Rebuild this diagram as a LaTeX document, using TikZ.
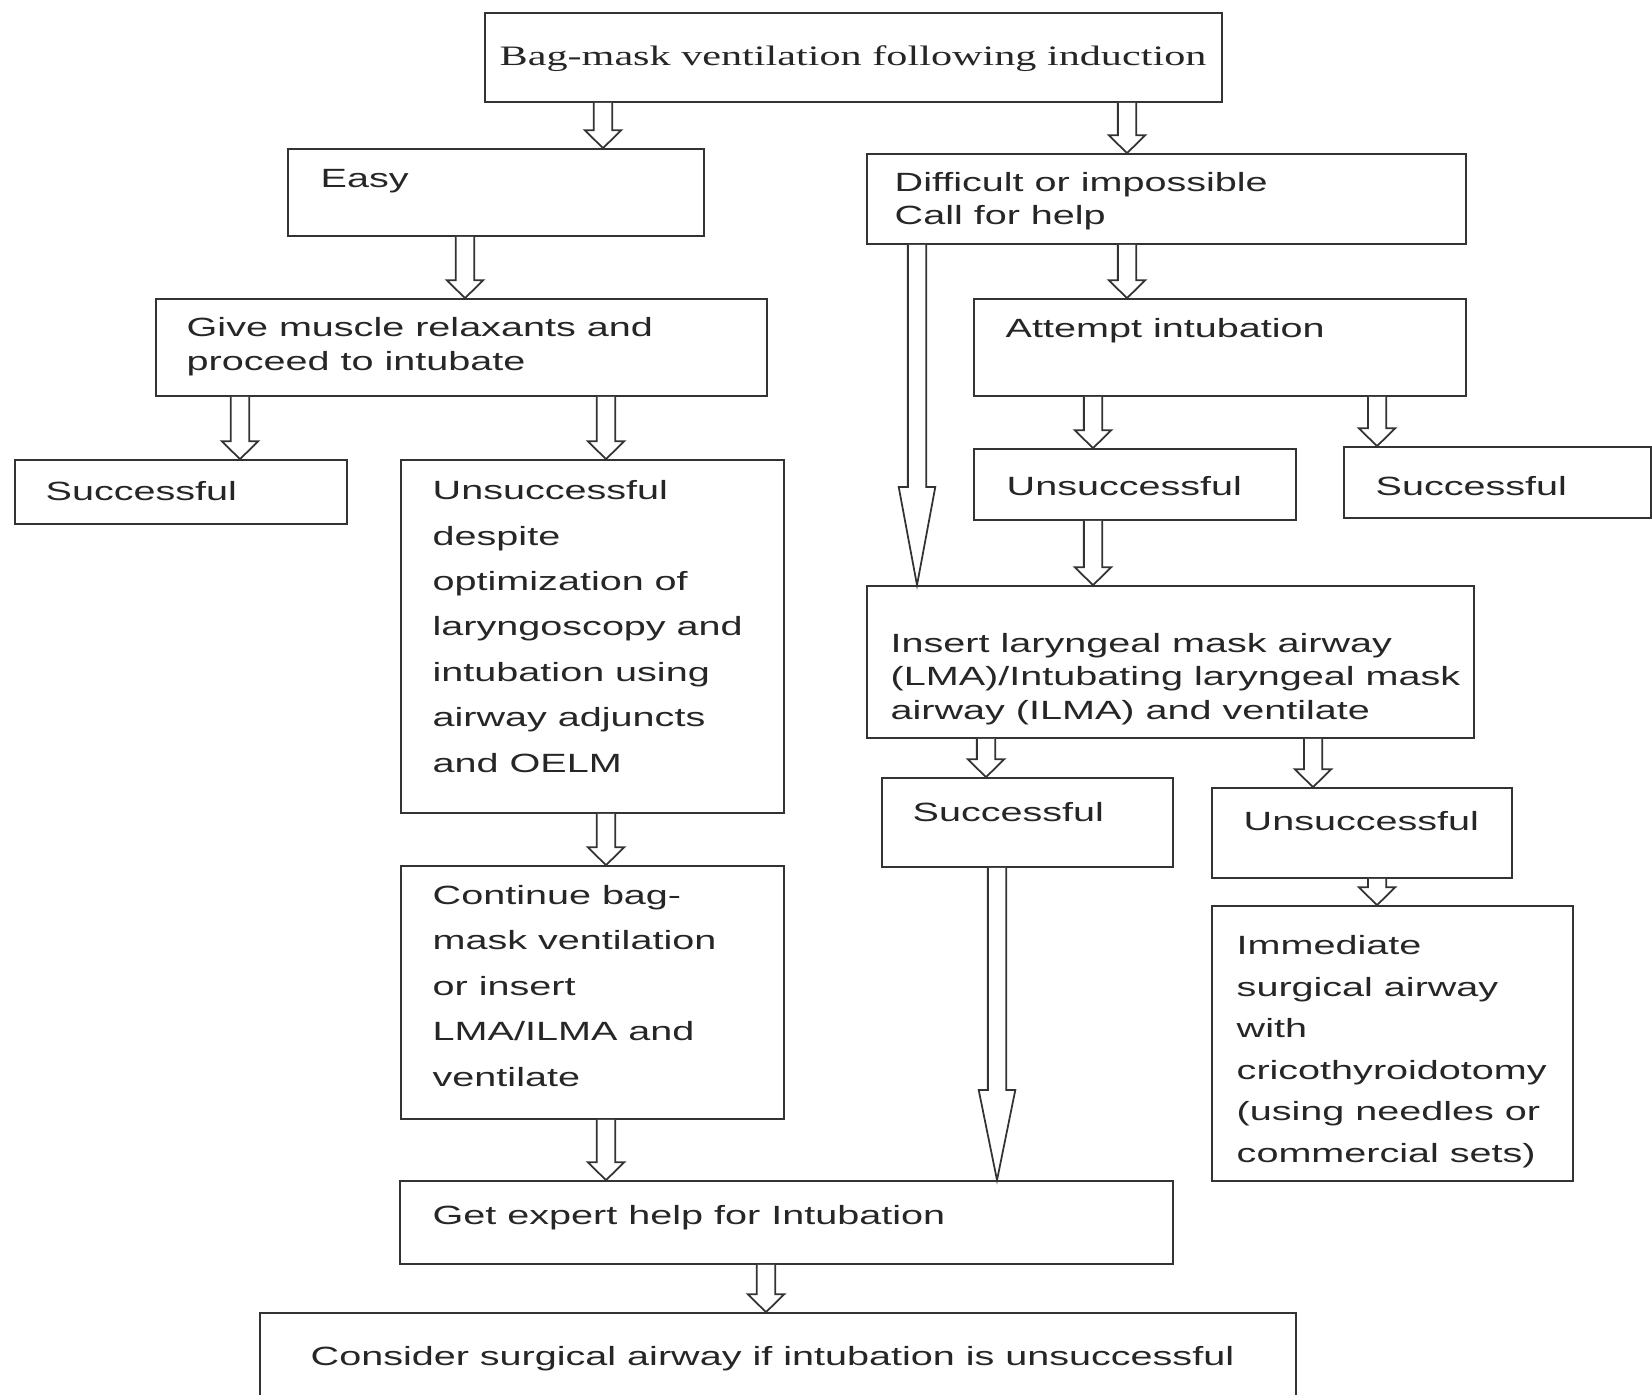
\documentclass[tikz,border=0pt]{standalone}
\usepackage{fontspec}
\setmainfont[FakeStretch=1.5]{Liberation Sans}
\newfontfamily\topfont[FakeStretch=1.5]{Liberation Serif}
\usetikzlibrary{fit,calc}

\tikzset{
  box/.style={draw=black!80, line width=0.5pt, inner sep=0pt},
  txt/.style={anchor=base west, inner sep=0pt, align=left, text=black!85,
    font=\fontsize{7.5pt}{9.5pt}\selectfont},
  widetxt/.style={txt, font=\fontsize{7.5pt}{12.9pt}\selectfont},
  midtxt/.style={txt, font=\fontsize{7.5pt}{11.8pt}\selectfont},
  hollow/.style={draw=black!80, line width=0.5pt, fill=white, line join=miter},
}

% hollow block arrow: [head length] from box, to box, x position
\newcommand{\flowarrow}[4][5.1pt]{%
  \draw[hollow] let \p1=(#2.south), \p2=(#3.north), \p3=(#4,0) in
    (\x3-2.6pt,\y1) -- (\x3-2.6pt,\y2+#1) -- (\x3-5.2pt,\y2+#1) -- (\x3,\y2)
    -- (\x3+5.2pt,\y2+#1) -- (\x3+2.6pt,\y2+#1) -- (\x3+2.6pt,\y1);
}

\begin{document}
\begin{tikzpicture}[x=0.01cm, y=-0.01cm]
  \useasboundingbox (0,0) rectangle (1652,1394);

  % Boxes
  \node[box, fit={(485,13) (1222,102)}] (start) {};
  \node[box, fit={(288,149) (704,236)}] (easy) {};
  \node[box, fit={(867,154) (1466,244)}] (difficult) {};
  \node[box, fit={(156,299) (767,396)}] (relax) {};
  \node[box, fit={(974,299) (1466,396)}] (attempt) {};
  \node[box, fit={(15,460) (347,524)}] (succleft) {};
  \node[box, fit={(401,460) (784,813)}] (despite) {};
  \node[box, fit={(974,449) (1296,520)}] (unsright) {};
  \node[box, fit={(1344,447) (1651,518)}] (succright) {};
  \node[box, fit={(867,586) (1474,738)}] (lma) {};
  \node[box, fit={(882,778) (1173,867)}] (succmid) {};
  \node[box, fit={(1212,788) (1512,878)}] (unsmid) {};
  \node[box, fit={(1212,906) (1573,1181)}] (surgical) {};
  \node[box, fit={(401,866) (784,1119)}] (continue) {};
  \node[box, fit={(400,1181) (1173,1264)}] (expert) {};
  \node[box, fit={(260,1313) (1296,1420)}] (consider) {};

  % Texts (multi-line ones sit on their last baseline)
  \node[anchor=base, inner sep=0pt, text=black!85, font=\topfont\fontsize{8pt}{9.5pt}\selectfont]
    (starttext) at (853,66) {Bag-mask ventilation following induction};
  \node[txt] (easytext) at (320,188) {Easy};
  \node[txt] (difftext) at (894,225) {Difficult or impossible\\Call for help};
  \node[txt] (relaxtext) at (186,370) {Give muscle relaxants and\\proceed to intubate};
  \node[txt] (attempttext) at (1005,337) {Attempt intubation};
  \node[txt] (succlefttext) at (45,500) {Successful};
  \node[widetxt] (despitetext) at (432,772) {Unsuccessful\\despite\\optimization of\\laryngoscopy and\\intubation using\\airway adjuncts\\and OELM};
  \node[txt] (unsrighttext) at (1006,495) {Unsuccessful};
  \node[txt] (succrighttext) at (1375,495) {Successful};
  \node[txt] (lmatext) at (890,719) {Insert laryngeal mask airway\\(LMA)/Intubating laryngeal mask\\airway (ILMA) and ventilate};
  \node[txt] (succmidtext) at (912,821) {Successful};
  \node[txt] (unsmidtext) at (1243,830) {Unsuccessful};
  \node[midtxt] (surgicaltext) at (1236,1162) {Immediate\\surgical airway\\with\\cricothyroidotomy\\(using needles or\\commercial sets)};
  \node[widetxt] (continuetext) at (432,1086) {Continue bag-\\mask ventilation\\or insert\\LMA/ILMA and\\ventilate};
  \node[txt] (experttext) at (432,1224) {Get expert help for Intubation};
  \node[txt] (considertext) at (310,1365) {Consider surgical airway if intubation is unsuccessful};

  % Arrows
  \flowarrow{start}{easy}{603}
  \flowarrow{start}{difficult}{1127}
  \flowarrow{easy}{relax}{465}
  \flowarrow{difficult}{attempt}{1127}
  \flowarrow[27.9pt]{difficult}{lma}{917}
  \flowarrow{relax}{succleft}{240}
  \flowarrow{relax}{despite}{606}
  \flowarrow{attempt}{unsright}{1093}
  \flowarrow{attempt}{succright}{1377}
  \flowarrow{unsright}{lma}{1093}
  \flowarrow{lma}{succmid}{986}
  \flowarrow{lma}{unsmid}{1313}
  \flowarrow{unsmid}{surgical}{1377}
  \flowarrow{despite}{continue}{606}
  \flowarrow{continue}{expert}{606}
  \flowarrow[25.6pt]{succmid}{expert}{997}
  \flowarrow{expert}{consider}{766}
\end{tikzpicture}
\end{document}
